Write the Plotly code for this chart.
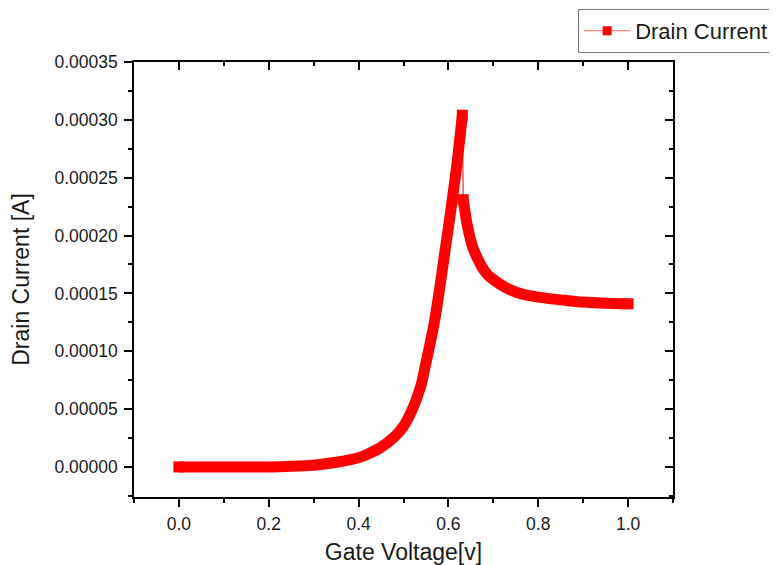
import plotly.graph_objects as go

# rising branch: gate voltage [V] and drain current [A]
rise_v = [0.0, 0.05, 0.10, 0.15, 0.20, 0.25, 0.30, 0.35, 0.40, 0.42, 0.45, 0.48,
          0.50, 0.52, 0.53, 0.54, 0.55, 0.56, 0.57, 0.58, 0.59, 0.60, 0.61, 0.62, 0.631]
rise_i = [0.0, 0.0, 0.0, 0.0, 0.0, 0.0000005, 0.0000015, 0.000004, 0.000008, 0.000011,
          0.000017, 0.000026, 0.000035, 0.000050, 0.000060, 0.000072, 0.000090, 0.000108,
          0.000128, 0.000153, 0.000180, 0.000207, 0.000235, 0.000265, 0.000304]

# falling branch after the peak
fall_v = [0.633, 0.640, 0.647, 0.654, 0.665, 0.676, 0.69, 0.713, 0.73, 0.751, 0.78,
          0.824, 0.86, 0.898, 0.95, 1.0]
fall_i = [0.000231, 0.000213, 0.000200, 0.000190, 0.000180, 0.000172, 0.000165, 0.0001585,
          0.0001545, 0.000151, 0.000148, 0.0001455, 0.000144, 0.0001425, 0.0001415, 0.000141]

RED = "#ff0000"
FONT = "Arial, Liberation Sans, sans-serif"


def end_sizes(n, size=11):
    # square caps only at the two ends of a branch
    return [size] + [0] * (n - 2) + [size]


fig = go.Figure()

# thick band for each branch
for xs, ys in [(rise_v, rise_i), (fall_v, fall_i)]:
    fig.add_trace(go.Scatter(
        x=xs, y=ys, mode="lines+markers",
        line=dict(color=RED, width=11, shape="spline", smoothing=0.6),
        marker=dict(symbol="square", size=end_sizes(len(xs)), color=RED,
                    opacity=1, line=dict(width=0)),
        showlegend=False, hoverinfo="skip"
    ))

# thin joining segment at the drop
fig.add_trace(go.Scatter(
    x=[rise_v[-1], fall_v[0]], y=[rise_i[-1], fall_i[0]], mode="lines",
    line=dict(color=RED, width=1), showlegend=False, hoverinfo="skip"
))

# legend entry
fig.add_trace(go.Scatter(
    x=[None], y=[None], mode="lines+markers", name="Drain Current",
    line=dict(color="#ff6666", width=1),
    marker=dict(symbol="square", size=9, color=RED)
))

# dummy trace so the mirrored axes are drawn
fig.add_trace(go.Scatter(x=[None], y=[None], xaxis="x2", yaxis="y2",
                         showlegend=False, hoverinfo="skip"))

xr = [-0.1, 1.1]
yr = [-0.000026, 0.00035]
tickfont = dict(family=FONT, size=17.5, color="#1a1a1a")
titlefont = dict(family=FONT, size=23, color="#1a1a1a")

# page body adds 8px around the plot div, so the figure is 8px smaller
fig.update_layout(
    width=769, height=557,
    margin=dict(l=126, r=104, t=54, b=68, autoexpand=False),
    paper_bgcolor="white", plot_bgcolor="white",
    font=dict(family=FONT, color="#1a1a1a"),
    xaxis=dict(
        range=xr, tick0=0, dtick=0.2, tickformat=".1f",
        ticks="outside", ticklen=8, tickwidth=1.5, tickcolor="black",
        minor=dict(ticks="outside", ticklen=4, tickwidth=1.5, dtick=0.1, tick0=0, tickcolor="black"),
        showline=True, linecolor="black", linewidth=1.5,
        showgrid=False, zeroline=False, tickfont=tickfont, automargin=False,
        ticklabelstandoff=2,
        title=dict(text="Gate Voltage[v]", font=titlefont, standoff=12)
    ),
    yaxis=dict(
        range=yr, tick0=0, dtick=0.00005, tickformat=".5f",
        ticks="outside", ticklen=8, tickwidth=1.5, tickcolor="black",
        minor=dict(ticks="outside", ticklen=4, tickwidth=1.5, dtick=0.000025, tick0=0, tickcolor="black"),
        showline=True, linecolor="black", linewidth=1.5,
        showgrid=False, zeroline=False, tickfont=tickfont, automargin=False,
        ticklabelstandoff=3,
        title=dict(text="Drain Current [A]", font=titlefont, standoff=22)
    ),
    xaxis2=dict(
        range=xr, overlaying="x", side="top", tick0=0, dtick=0.2,
        ticks="inside", ticklen=8, tickwidth=1.5, tickcolor="black",
        minor=dict(ticks="inside", ticklen=4, tickwidth=1.5, dtick=0.1, tick0=0, tickcolor="black"),
        showline=True, linecolor="black", linewidth=1.5,
        showticklabels=False, showgrid=False, zeroline=False
    ),
    yaxis2=dict(
        range=yr, overlaying="y", side="right", tick0=0, dtick=0.00005,
        ticks="inside", ticklen=8, tickwidth=1.5, tickcolor="black",
        minor=dict(ticks="inside", ticklen=4, tickwidth=1.5, dtick=0.000025, tick0=0, tickcolor="black"),
        showline=True, linecolor="black", linewidth=1.5,
        showticklabels=False, showgrid=False, zeroline=False
    ),
    legend=dict(
        x=0.824, y=1.122, xanchor="left", yanchor="top",
        bordercolor="#777", borderwidth=1, bgcolor="white",
        font=dict(family=FONT, size=22, color="#1a1a1a"),
        itemwidth=46, tracegroupgap=0
    ),
    showlegend=True
)

fig.write_html("out.html")
